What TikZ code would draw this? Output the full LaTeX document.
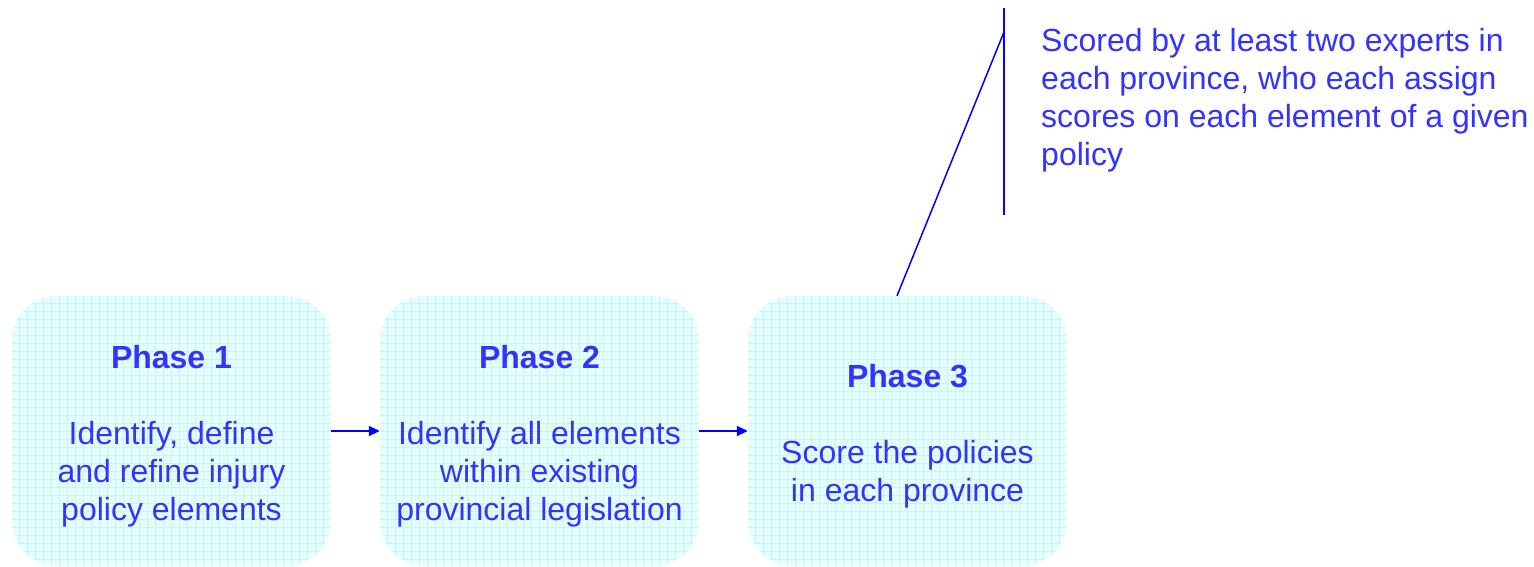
\documentclass[tikz,border=0pt]{standalone}
\usepackage{fontspec}
\setmainfont{Liberation Sans}
\usetikzlibrary{arrows.meta}
\definecolor{boxfill}{HTML}{E3FFFF}
\definecolor{gridc}{HTML}{CCF2F4}
\definecolor{txt}{HTML}{3333FF}
\definecolor{ln}{HTML}{0000FF}
\tikzset{
  phasebox/.style={rounded corners=45pt, fill=boxfill, minimum width=319pt, minimum height=270pt,
    inner sep=0pt,
    path picture={\draw[gridc, line width=0.5pt, step=8pt]
      (path picture bounding box.south west) grid (path picture bounding box.north east);}},
  phasetext/.style={text=txt, font=\fontsize{32}{38}\selectfont, align=center, inner sep=0pt},
  flowarrow/.style={ln, line width=1.5pt, -{Triangle[length=11pt,width=10pt]}},
  callout/.style={ln, line width=1.5pt},
  notetext/.style={text=txt, font=\fontsize{32}{38}\selectfont, align=left, inner sep=0pt, anchor=north west}
}
\begin{document}
\begin{tikzpicture}[x=1pt,y=-1pt]
\useasboundingbox (0,0) rectangle (1534,566);
\node[phasebox] (p1) at (171.5,431) {};
\node[phasebox] (p2) at (539.5,431) {};
\node[phasebox] (p3) at (907.5,431) {};
\node[phasetext] (t1) at ([yshift=-5pt]p1.center) {\textbf{Phase 1}\\[38pt]Identify, define\\and refine injury\\policy elements};
\node[phasetext] (t2) at ([yshift=-5pt]p2.center) {\textbf{Phase 2}\\[38pt]Identify all elements\\within existing\\provincial legislation};
\node[phasetext] (t3) at ([yshift=-5pt]p3.center) {\textbf{Phase 3}\\[38pt]Score the policies\\in each province};
\draw[flowarrow] (p1.east) -- (p2.west);
\draw[flowarrow] (p2.east) -- (p3.west);
\coordinate (ctop) at (1004,8);
\coordinate (cbot) at (1004,215);
\coordinate (cjoin) at (1004,32);
\draw[callout] (ctop) -- (cbot);
\draw[callout] ([xshift=-10.5pt]p3.north) -- (cjoin);
\node[notetext] (note) at (1041,28) {Scored by at least two experts in\\each province, who each assign\\scores on each element of a given\\policy};
\end{tikzpicture}
\end{document}
